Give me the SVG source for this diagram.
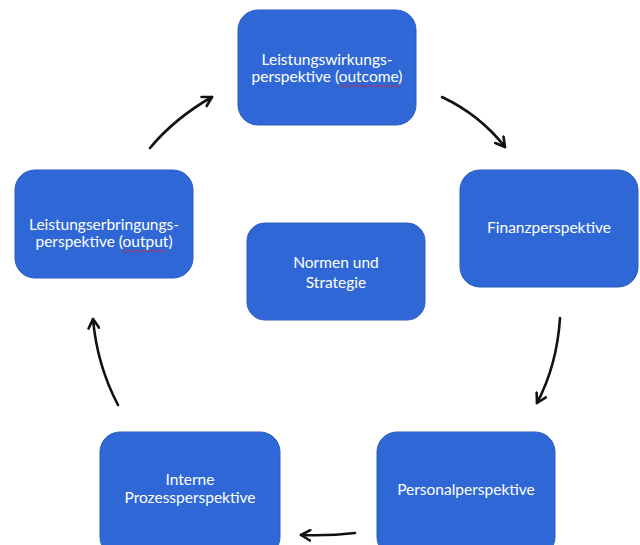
<svg xmlns="http://www.w3.org/2000/svg" width="640" height="545" viewBox="0 0 640 545">
<defs>
<style>
.box{fill:#2f68d6;stroke:#2a5cbc;stroke-width:1}
.t{fill:#ffffff;font-family:Lato,"Noto Sans",sans-serif;font-size:15.5px;text-anchor:middle}
.c{fill:none;stroke:#111;stroke-width:2.6;stroke-linecap:round}
.sp{fill:none;stroke:#c82a3a;stroke-width:0.9}
</style>
<marker id="ah" viewBox="0 0 10 10" refX="8" refY="5" markerWidth="5" markerHeight="5" orient="auto" markerUnits="strokeWidth">
<path d="M1,1 L8,5 L1,9" fill="none" stroke="#111" stroke-width="2" stroke-linecap="round" stroke-linejoin="round"/>
</marker>
</defs>
<rect width="640" height="545" fill="#ffffff"/>
<g id="n-outcome">
<rect class="box" x="238" y="10" width="178" height="115" rx="20"/>
<text class="t" x="327" y="65">Leistungswirkungs-</text>
<text class="t" x="327" y="82">perspektive (outcome)</text>
<path class="sp" d="M340,86 q2,2 4,0 t4,0 t4,0 t4,0 t4,0 t4,0 t4,0 t4,0 t4,0 t4,0 t4,0 t4,0 t4,0 t4,0 t4,0"/>
</g>
<g id="n-output">
<rect class="box" x="15" y="170" width="178" height="108" rx="20"/>
<text class="t" x="104" y="230">Leistungserbringungs-</text>
<text class="t" x="104" y="247">perspektive (output)</text>
<path class="sp" d="M122,251 q2,2 4,0 t4,0 t4,0 t4,0 t4,0 t4,0 t4,0 t4,0 t4,0 t4,0 t4,0"/>
</g>
<g id="n-normen">
<rect class="box" x="247" y="223" width="178" height="97" rx="18"/>
<text class="t" x="336" y="268">Normen und</text>
<text class="t" x="336" y="288">Strategie</text>
</g>
<g id="n-finanz">
<rect class="box" x="460" y="170" width="178" height="117" rx="20"/>
<text class="t" x="549" y="233">Finanzperspektive</text>
</g>
<g id="n-prozess">
<rect class="box" x="100" y="432" width="180" height="125" rx="20"/>
<text class="t" x="190" y="485">Interne</text>
<text class="t" x="190" y="503">Prozessperspektive</text>
</g>
<g id="n-personal">
<rect class="box" x="377" y="432" width="178" height="125" rx="20"/>
<text class="t" x="466" y="495">Personalperspektive</text>
</g>
<g id="connectors">
<path class="c" marker-end="url(#ah)" d="M150,148 Q175,118 212,97"/>
<path class="c" marker-end="url(#ah)" d="M442,97 Q480,115 505,147"/>
<path class="c" marker-end="url(#ah)" d="M560,318 Q557,365 537,403"/>
<path class="c" marker-end="url(#ah)" d="M355,533 Q330,536 301,535"/>
<path class="c" marker-end="url(#ah)" d="M118,405 Q97,365 93,319"/>
</g>
</svg>
